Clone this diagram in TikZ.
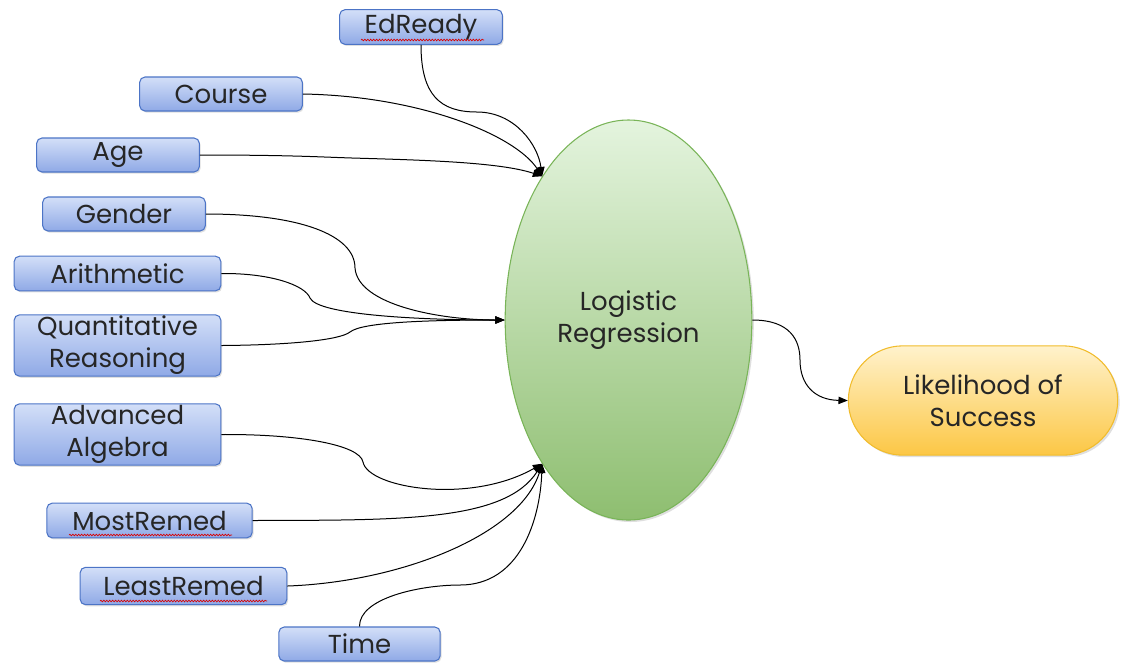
\documentclass[tikz,border=0pt]{standalone}
\usepackage{fontspec}
\setmainfont{Poppins}
\usetikzlibrary{arrows.meta,shadows,shapes.geometric,shapes.misc,decorations.pathmorphing}

\definecolor{boxtop}{HTML}{D3DFF8}
\definecolor{boxbot}{HTML}{8FA9E6}
\definecolor{boxedge}{HTML}{4C74C6}
\definecolor{lrtop}{HTML}{E4F4DE}
\definecolor{lrbot}{HTML}{8EBE70}
\definecolor{lredge}{HTML}{79B458}
\definecolor{outtop}{HTML}{FFF2CC}
\definecolor{outbot}{HTML}{FCC745}
\definecolor{outedge}{HTML}{F1BC2C}

\tikzset{
  txt/.style={font=\fontsize{19.5}{24}\selectfont, text=black!85, align=center},
  inbox/.style={txt, rectangle, rounded corners=4pt, draw=boxedge, line width=0.8pt,
    top color=boxtop, bottom color=boxbot, inner sep=0pt,
    drop shadow={opacity=0.25, shadow xshift=1pt, shadow yshift=-1.2pt}},
  model/.style={txt, ellipse, draw=lredge, line width=0.8pt, top color=lrtop,
    bottom color=lrbot, inner sep=0pt, minimum width=185pt, minimum height=300pt,
    drop shadow={opacity=0.25, shadow xshift=1.5pt, shadow yshift=-1.5pt}},
  result/.style={txt, rounded rectangle, draw=outedge, line width=0.8pt,
    top color=outtop, bottom color=outbot, inner sep=0pt,
    minimum width=202pt, minimum height=82pt,
    drop shadow={opacity=0.25, shadow xshift=1.5pt, shadow yshift=-1.5pt}},
  link/.style={line width=0.75pt, black},
  tip/.style={-{Triangle[length=7pt,width=5.5pt]}},
  spell/.style={red!85!black, line width=0.5pt,
    decorate, decoration={snake, amplitude=0.6pt, segment length=2.2pt}}
}

\begin{document}
\begin{tikzpicture}[x=0.75pt, y=-0.75pt]
  \useasboundingbox (0,0) rectangle (1126,662);

  % predictor boxes
  \node[inbox, minimum width=122pt, minimum height=26pt] (edready) at (421,27) {EdReady};
  \node[inbox, minimum width=122pt, minimum height=25.5pt] (course) at (221,94) {Course};
  \node[inbox, minimum width=122pt, minimum height=25.5pt] (age) at (118,155) {Age};
  \node[inbox, minimum width=122pt, minimum height=25.5pt] (gender) at (124,214) {Gender};
  \node[inbox, minimum width=155pt, minimum height=26pt] (arith) at (117.5,273.5) {Arithmetic};
  \node[inbox, minimum width=155pt, minimum height=46pt] (quant) at (117.5,345.5) {Quantitative\\Reasoning};
  \node[inbox, minimum width=155pt, minimum height=46pt] (alg) at (117.5,434.5) {Advanced\\Algebra};
  \node[inbox, minimum width=154pt, minimum height=26pt] (most) at (149.5,520.5) {MostRemed};
  \node[inbox, minimum width=155pt, minimum height=28pt] (least) at (183.5,586) {LeastRemed};
  \node[inbox, minimum width=121pt, minimum height=25.5pt] (time) at (359.5,644) {Time};

  % model and outcome
  \node[model] (lr) at (628.5,320) {Logistic\\Regression};
  \node[result] (out) at (983,400.5) {Likelihood of\\Success};

  % spell-check underlines
  \coordinate (s1a) at (361,40); \coordinate (s1b) at (484,40);
  \coordinate (s2a) at (69,535); \coordinate (s2b) at (232,535);
  \coordinate (s3a) at (100,601); \coordinate (s3b) at (267,601);
  \draw[spell] (s1a) -- (s1b);
  \draw[spell] (s2a) -- (s2b);
  \draw[spell] (s3a) -- (s3b);

  % connectors into the upper arrow point
  \draw[link, tip] (edready.south) .. controls (421,95) and (440,112) .. (477,112)
        .. controls (515,112) and (538,145) .. (lr.121);
  \draw[link, tip] (course.east) .. controls (420,96) and (515,135) .. (lr.121);
  \draw[link, tip] (age.east) .. controls (290,155) and (320,157) .. (352,158)
        .. controls (420,160) and (500,162) .. (lr.121);

  % connectors into the middle arrow point
  \draw[link, tip] (gender.east) .. controls (300,214) and (355,235) .. (355,268)
        .. controls (358,305) and (440,320) .. (lr.west);
  \draw[link, tip] (arith.east) .. controls (270,273) and (305,285) .. (310,298)
        .. controls (318,315) and (420,320) .. (lr.west);
  \draw[link, tip] (quant.east) .. controls (290,345) and (340,340) .. (350,332)
        .. controls (362,322) and (430,320) .. (lr.west);

  % connectors into the lower arrow point
  \draw[link, tip] (alg.east) .. controls (300,434) and (360,445) .. (363,462)
        .. controls (368,488) and (470,505) .. (lr.239);
  \draw[link, tip] (most.east) .. controls (400,520) and (505,522) .. (lr.239);
  \draw[link, tip] (least.east) .. controls (400,582) and (520,535) .. (lr.239);
  \draw[link, tip] (time.north) .. controls (359,598) and (420,585) .. (460,585)
        .. controls (520,585) and (540,520) .. (lr.239);

  % model to outcome
  \draw[link, tip] (lr.east) .. controls (790,320) and (800,340) .. (800,360)
        .. controls (800,385) and (815,400) .. (out.west);
\end{tikzpicture}
\end{document}
